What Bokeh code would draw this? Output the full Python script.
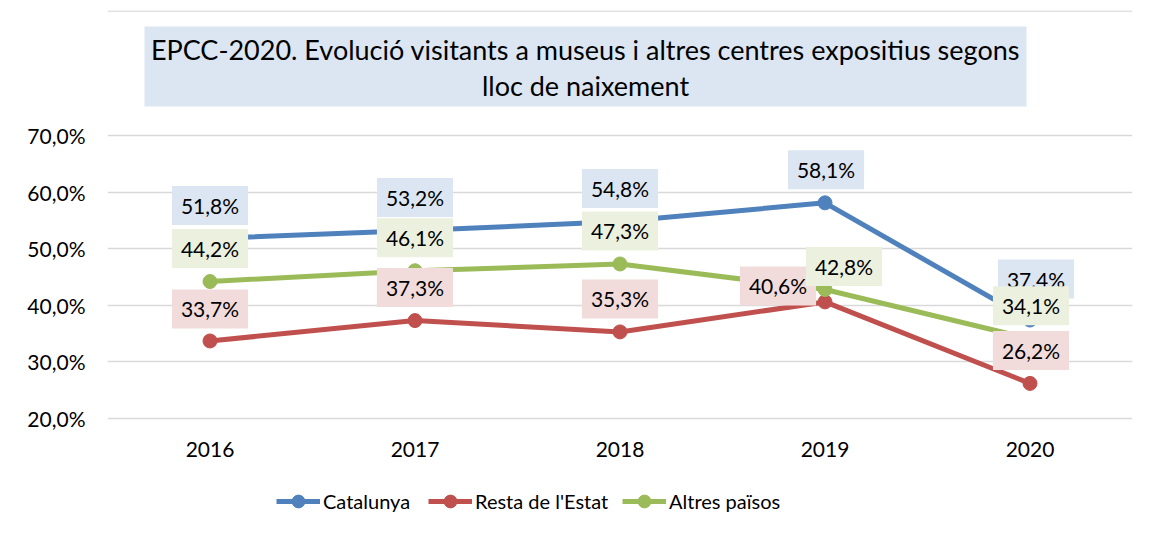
from bokeh.plotting import figure
from bokeh.models import (FactorRange, FixedTicker, Legend, LegendItem, Label,
                          BoxAnnotation, ColumnDataSource, Range1d, Span)
from bokeh.core.properties import value
from bokeh.embed import file_html
from bokeh.resources import INLINE

# ---------------- data ----------------
years = ["2016", "2017", "2018", "2019", "2020"]
catalunya = [51.8, 53.2, 54.8, 58.1, 37.4]
resta = [33.7, 37.3, 35.3, 40.6, 26.2]
altres = [44.2, 46.1, 47.3, 42.8, 34.1]
series_names = ["Catalunya", "Resta de l'Estat", "Altres països"]
y_ticks = [20, 30, 40, 50, 60, 70]
y_tick_labels = ["20,0%", "30,0%", "40,0%", "50,0%", "60,0%", "70,0%"]
title_lines = ["EPCC-2020. Evolució visitants a museus i altres centres expositius segons",
               "lloc de naixement"]

# ---------------- style / layout ----------------
FONT = "Lato"
colors = ["#4f81bd", "#c0504d", "#9bbb59"]
label_fills = ["#dce6f2", "#f2dcdb", "#ebf1de"]
offsets_x = [[0, 0, 0, 1, 6], [0, 0, 0, -47, 1], [0, 0, 0, 19, 1]]
offsets_y = [[-33, -33, -33, -33, -41], [-32, -33, -33, -16, -33], [-33, -33, -33, -23, -33]]
legend_x = [276, 428, 622]   # left edge of each legend entry's glyph (px)

W, H = 1150, 530
FRAME_L, FRAME_R, FRAME_T, FRAME_B = 107, 1132, 10, 528
GRID_T, GRID_B = 135, 418                  # pixel rows of 70% and 20%
PX_PER_UNIT = (GRID_B - GRID_T) / 50.0
y_top = 70 + (GRID_T - FRAME_T) / PX_PER_UNIT   # room for the title
y_bot = 20 - (FRAME_B - GRID_B) / PX_PER_UNIT   # room for axis labels + legend

p = figure(width=W, height=H, x_range=FactorRange(*years, range_padding=0),
           y_range=Range1d(y_bot, y_top), output_backend="svg", toolbar_location=None,
           min_border_left=FRAME_L, min_border_right=W - FRAME_R,
           min_border_top=FRAME_T, min_border_bottom=H - FRAME_B)
p.outline_line_color = None
p.xgrid.grid_line_color = None
p.ygrid.grid_line_color = "#d9d9d9"
p.ygrid.grid_line_width = 1.5
p.yaxis.ticker = FixedTicker(ticks=y_ticks)
p.yaxis.major_label_overrides = {t: l for t, l in zip(y_ticks, y_tick_labels)}
p.xaxis.fixed_location = 20
for ax in (p.xaxis[0], p.yaxis[0]):
    ax.axis_line_color = None
    ax.major_tick_line_color = None
    ax.minor_tick_line_color = None
    ax.major_tick_in = 0
    ax.major_tick_out = 0
    ax.major_label_text_font = FONT
    ax.major_label_text_font_size = "21px"
    ax.major_label_text_color = "#000000"
p.yaxis.major_label_standoff = 22
p.xaxis.major_label_standoff = 23

# thin chart-area border along the top
p.add_layout(Span(location=y_top - 0.6 / PX_PER_UNIT, dimension="width",
                  line_color="#d9d9d9", line_width=1.5))

all_series = [catalunya, resta, altres]
legend_items = []
for name, vals, col in zip(series_names, all_series, colors):
    src = ColumnDataSource(dict(x=years, y=vals))
    l = p.line("x", "y", source=src, line_color=col, line_width=5)
    s = p.scatter("x", "y", source=src, size=14, fill_color=col, line_color=col)
    legend_items.append(LegendItem(label=name, renderers=[l, s]))

for vals, fill, ox, oy in zip(all_series, label_fills, offsets_x, offsets_y):
    txt = [f"{v:.1f}%".replace(".", ",") for v in vals]
    src = ColumnDataSource(dict(x=years, y=vals, t=txt, ox=ox, oy=oy))
    p.text("x", "y", text="t", source=src, x_offset="ox", y_offset="oy",
           text_align="center", text_baseline="middle",
           text_font=value(FONT), text_font_size="21px",
           text_color="#000000", background_fill_color=fill,
           padding=dict(left=9, right=9, top=7, bottom=7))

for item, lx in zip(legend_items, legend_x):
    legend = Legend(items=[item], orientation="horizontal", location=(lx - FRAME_L, 11),
                    glyph_width=44, glyph_height=32, label_standoff=3,
                    padding=0, margin=0, border_line_color=None,
                    background_fill_alpha=0, label_text_font=FONT,
                    label_text_font_size="20px", label_text_color="#000000")
    p.add_layout(legend, "center")

# title box (frame-relative screen coords, y measured up from frame bottom)
p.add_layout(BoxAnnotation(left=144 - FRAME_L, right=1026 - FRAME_L,
                           top=FRAME_B - 26, bottom=FRAME_B - 106,
                           left_units="screen", right_units="screen",
                           top_units="screen", bottom_units="screen",
                           fill_color="#dce6f2", fill_alpha=1, line_color=None,
                           level="underlay"))
for line, yc in zip(title_lines, [49, 85]):
    p.add_layout(Label(x=585 - FRAME_L, y=FRAME_B - yc, x_units="screen", y_units="screen",
                       text=line, text_align="center", text_baseline="middle",
                       text_font=FONT, text_font_size="27px", text_color="#000000"))

open("out.html", "w").write(file_html(p, INLINE))
